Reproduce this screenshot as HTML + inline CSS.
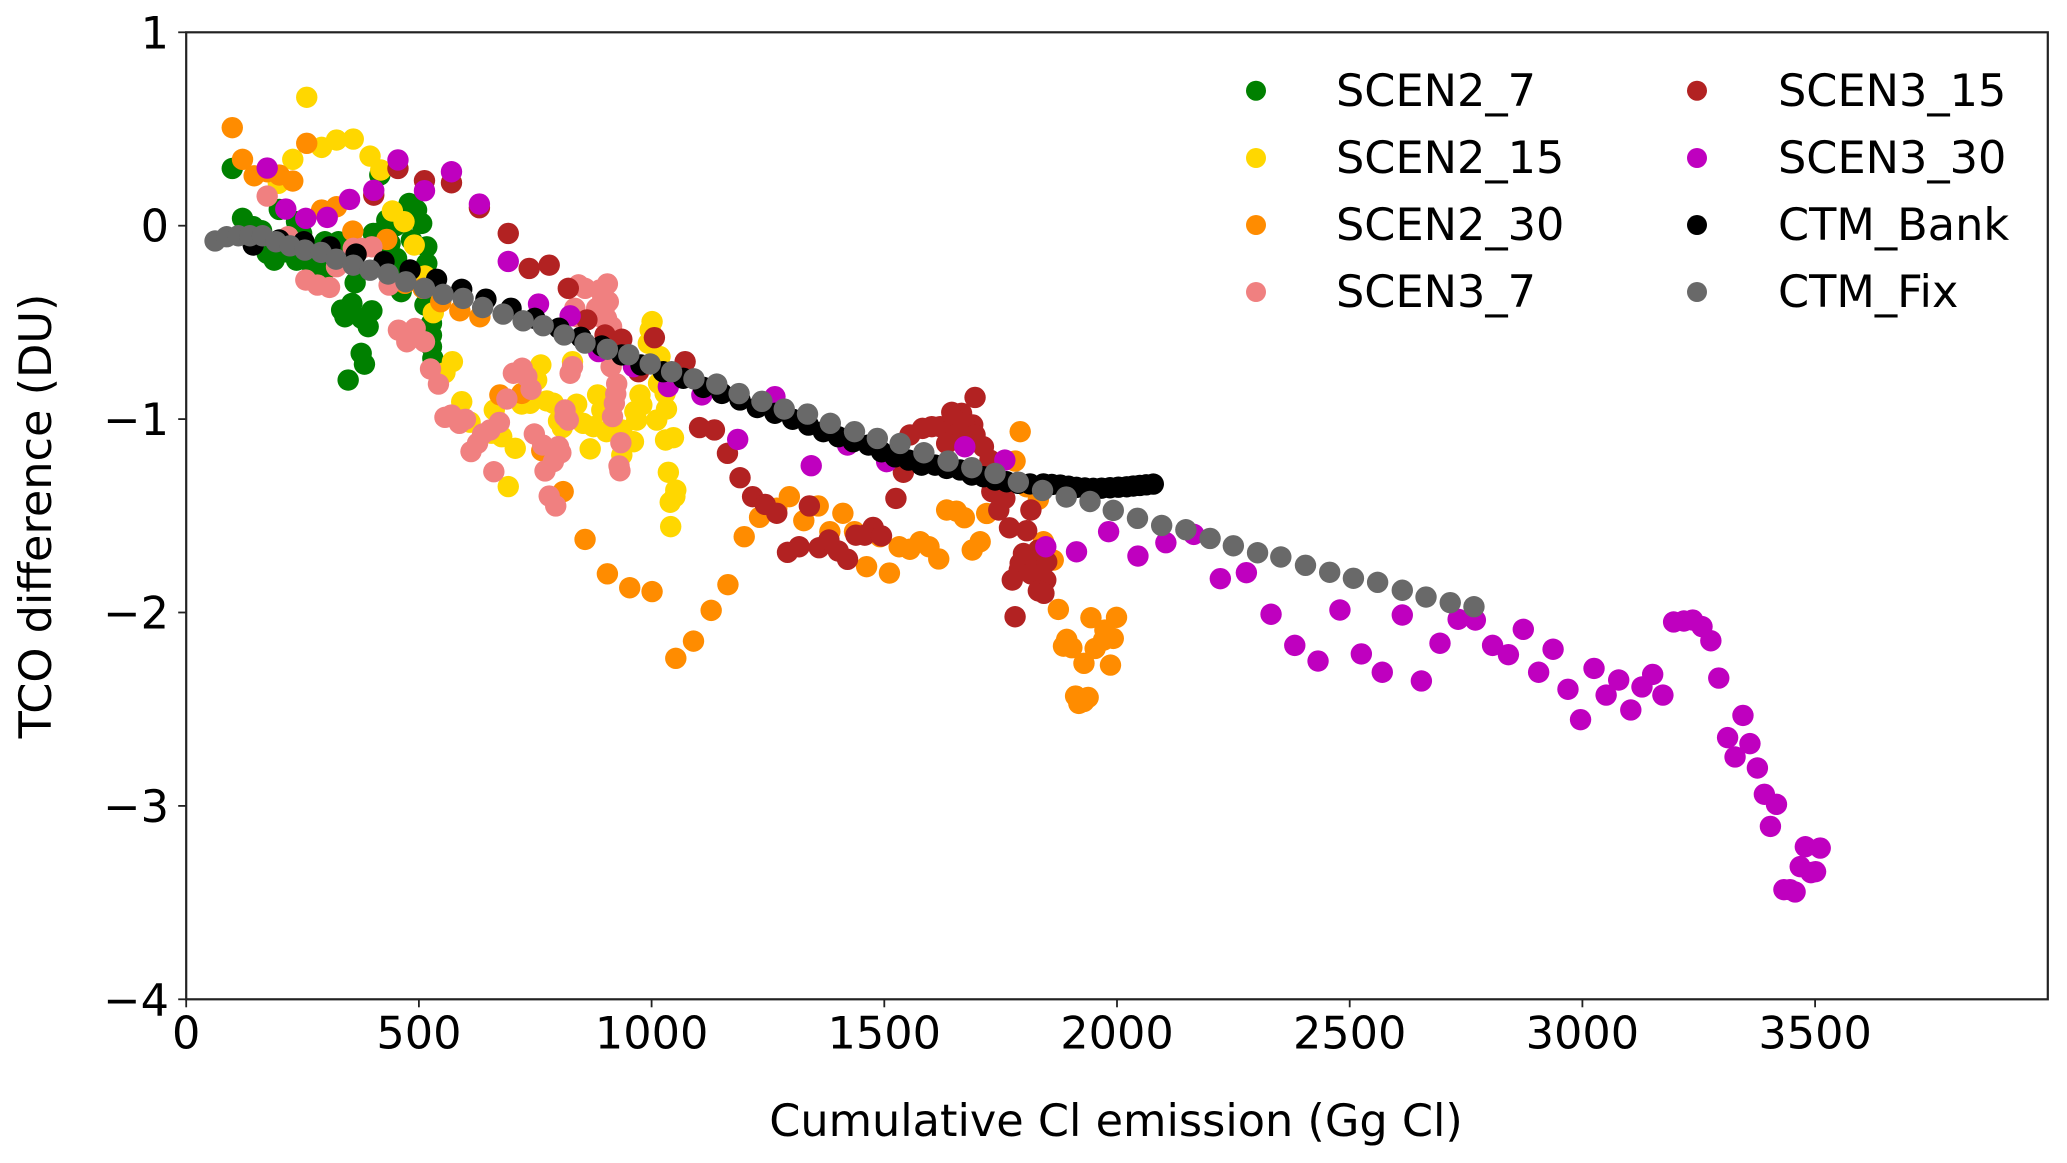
<!DOCTYPE html>
<html lang="en">
<head>
<meta charset="utf-8">
<title>TCO difference vs cumulative Cl emission</title>
<style>
html,body{margin:0;padding:0;background:#fff;}
svg{display:block;}
text{font-family:"DejaVu Sans","Liberation Sans",sans-serif;font-size:44.6px;fill:#000;}
</style>
</head>
<body>
<svg id="chart" xmlns="http://www.w3.org/2000/svg" width="2067" height="1163" viewBox="0 0 2067 1163">
  <rect x="0" y="0" width="2067" height="1163" fill="#fff"/>
  <g id="marks"></g>
  <rect id="frame" fill="none" stroke="#222" stroke-width="2.2"/>
  <g id="axes"></g>
  <text x="1116" y="1136" text-anchor="middle">Cumulative Cl emission (Gg Cl)</text>
  <text text-anchor="middle" transform="translate(51,516) rotate(-90)">TCO difference (DU)</text>
  <g>
    <g><circle cx="1256" cy="90.7" r="10" fill="#008000"/><text x="1336" y="106">SCEN2_7</text></g>
    <g><circle cx="1256" cy="158" r="10" fill="#ffd700"/><text x="1336" y="173">SCEN2_15</text></g>
    <g><circle cx="1256" cy="225" r="10" fill="#ff8c00"/><text x="1336" y="240">SCEN2_30</text></g>
    <g><circle cx="1256" cy="292" r="10" fill="#f08080"/><text x="1336" y="307">SCEN3_7</text></g>
    <g><circle cx="1697" cy="90.7" r="10" fill="#b22222"/><text x="1778" y="106">SCEN3_15</text></g>
    <g><circle cx="1697" cy="158" r="10" fill="#bf00bf"/><text x="1778" y="173">SCEN3_30</text></g>
    <g><circle cx="1697" cy="225" r="10" fill="#000"/><text x="1778" y="240">CTM_Bank</text></g>
    <g><circle cx="1697" cy="292" r="10" fill="#696969"/><text x="1778" y="307">CTM_Fix</text></g>
  </g>
</svg>
<script>
const xTicks = [0,500,1000,1500,2000,2500,3000,3500];
const yTicks = [1,0,-1,-2,-3,-4];
const xLimits = [0,4000];
const yLimits = [-4,1];

const scen2_7 = [[99,.296],[121,.038],[144,-.005],[162,-.026],[200,.084],[237,.021],[248,-.04],[174,-.143],[189,-.178],[212,-.135],[237,-.178],[259,-.178],[284,-.212],[298,-.23],[316,-.204],[298,-.083],[327,-.083],[363,-.295],[334,-.436],[356,-.402],[341,-.471],[399,-.44],[377,-.479],[391,-.522],[376,-.66],[383,-.716],[348,-.798],[416,.262],[402,-.04],[409,-.04],[431,.029],[450,.0],[420,-.1],[479,.115],[495,.081],[506,.012],[484,-.074],[452,-.169],[438,-.092],[462,-.341],[517,-.109],[517,-.195],[513,-.264],[513,-.41],[527,-.505],[527,-.566],[527,-.626],[530,-.686],[467,-.247]];

const scen2_15 = [[259,.664],[229,.343],[291,.405],[323,.443],[359,.448],[395,.36],[418,.288],[198,.219],[443,.076],[468,.021],[490,-.1],[513,-.26],[531,-.45],[572,-.703],[556,-.76],[592,-.91],[762,-.72],[753,-.798],[830,-.703],[1001,-.496],[997,-.539],[993,-.608],[1018,-.677],[1015,-.815],[975,-.875],[979,-.927],[964,-.961],[968,-1.005],[1011,-1.005],[1032,-.948],[1029,-.867],[884,-.875],[893,-.953],[839,-.923],[775,-.906],[789,-.918],[721,-.922],[739,-.918],[662,-.953],[678,-1.091],[707,-1.151],[692,-1.349],[868,-1.154],[800,-1.01],[808,-1.044],[853,-1.022],[875,-1.039],[903,-1.065],[936,-1.056],[961,-1.117],[936,-1.186],[1030,-1.108],[1047,-1.096],[1036,-1.275],[1052,-1.367],[1050,-1.401],[1040,-1.43],[1041,-1.556],[610,-1.016],[656,-1.073]];

const scen2_30 = [[99,.507],[121,.343],[146,.258],[174,.279],[200,.262],[229,.231],[259,.426],[291,.081],[323,.098],[358,-.028],[431,-.071],[470,-.298],[509,-.324],[547,-.393],[588,-.44],[631,-.471],[674,-.875],[721,-.867],[764,-1.163],[810,-1.375],[857,-1.622],[905,-1.8],[953,-1.872],[1001,-1.892],[1052,-2.237],[1090,-2.148],[1128,-1.989],[1164,-1.856],[1199,-1.608],[1232,-1.508],[1269,-1.461],[1296,-1.401],[1327,-1.525],[1358,-1.449],[1411,-1.487],[1383,-1.582],[1436,-1.582],[1491,-1.608],[1462,-1.763],[1511,-1.796],[1532,-1.66],[1555,-1.673],[1577,-1.634],[1596,-1.66],[1617,-1.723],[1634,-1.47],[1655,-1.476],[1672,-1.51],[1720,-1.488],[1706,-1.634],[1689,-1.677],[1792,-1.065],[1781,-1.217],[1806,-1.35],[1831,-1.415],[1842,-1.634],[1863,-1.729],[1874,-1.984],[1944,-2.027],[1999,-2.025],[1974,-2.091],[1992,-2.134],[1892,-2.139],[1885,-2.174],[1903,-2.182],[1953,-2.186],[1971,-2.143],[1929,-2.263],[1986,-2.272],[1911,-2.432],[1938,-2.439],[1918,-2.47],[1929,-2.46]];

const scen3_7 = [[174,.153],[219,-.057],[257,-.281],[282,-.307],[308,-.319],[323,-.212],[359,-.117],[377,-.117],[399,-.109],[436,-.307],[456,-.54],[474,-.6],[492,-.531],[512,-.6],[525,-.741],[542,-.819],[556,-.991],[570,-.979],[587,-1.022],[600,-1.001],[703,-.763],[722,-.737],[732,-.78],[741,-.846],[689,-.896],[673,-1.017],[653,-1.056],[637,-1.077],[626,-1.125],[612,-1.168],[661,-1.272],[748,-1.077],[766,-1.134],[800,-1.142],[805,-1.174],[789,-1.22],[771,-1.268],[780,-1.398],[794,-1.449],[825,-.763],[830,-.729],[814,-.953],[814,-.987],[821,-1.005],[934,-1.122],[930,-1.242],[932,-1.267],[916,-.987],[920,-.918],[925,-.818],[923,-.87],[913,-.729],[843,-.306],[857,-.324],[905,-.301],[889,-.332],[907,-.393],[882,-.427],[835,-.427],[903,-.479],[914,-.522],[839,-.47],[889,-.47],[895,-.38],[898,-.43],[905,-.56],[925,-.6]];

const scen3_15 = [[455,.296],[512,.233],[570,.222],[403,.158],[630,.093],[692,-.04],[737,-.221],[780,-.204],[821,-.324],[861,-.487],[900,-.565],[936,-.587],[1006,-.579],[972,-.755],[1072,-.703],[1103,-1.044],[1135,-1.056],[1163,-1.177],[1190,-1.303],[1217,-1.401],[1244,-1.441],[1269,-1.487],[1292,-1.689],[1317,-1.66],[1360,-1.665],[1381,-1.625],[1401,-1.682],[1421,-1.725],[1439,-1.6],[1458,-1.6],[1476,-1.56],[1494,-1.604],[1339,-1.449],[1525,-1.41],[1541,-1.275],[1555,-1.082],[1582,-1.048],[1602,-1.039],[1620,-1.039],[1645,-.965],[1666,-.97],[1650,-1.0],[1640,-1.06],[1655,-1.08],[1690,-1.03],[1673,-1.031],[1695,-.888],[1684,-1.082],[1713,-1.143],[1634,-1.126],[1727,-1.212],[1731,-1.375],[1759,-1.41],[1746,-1.47],[1815,-1.47],[1769,-1.562],[1806,-1.577],[1799,-1.695],[1792,-1.746],[1820,-1.763],[1806,-1.712],[1815,-1.72],[1790,-1.78],[1825,-1.75],[1815,-1.8],[1849,-1.738],[1831,-1.677],[1775,-1.832],[1847,-1.832],[1831,-1.888],[1843,-1.901],[1781,-2.022],[1670,-1.022],[1695,-1.082]];

const scen3_30 = [[174,.298],[214,.086],[257,.038],[303,.043],[351,.136],[403,.183],[455,.34],[512,.181],[570,.279],[630,.112],[692,-.185],[757,-.405],[825,-.466],[886,-.651],[961,-.729],[1036,-.832],[1108,-.875],[1265,-.884],[1185,-1.105],[1343,-1.241],[1421,-1.134],[1505,-1.22],[1673,-1.143],[1759,-1.212],[1847,-1.66],[1913,-1.686],[1982,-1.582],[2045,-1.708],[2105,-1.639],[2165,-1.596],[2222,-1.825],[2278,-1.794],[2331,-2.009],[2382,-2.17],[2432,-2.251],[2479,-1.987],[2525,-2.214],[2570,-2.309],[2613,-2.013],[2654,-2.354],[2694,-2.159],[2733,-2.035],[2770,-2.039],[2807,-2.17],[2841,-2.218],[2873,-2.087],[2906,-2.309],[2937,-2.19],[2969,-2.397],[2996,-2.554],[3025,-2.289],[3051,-2.427],[3078,-2.349],[3104,-2.504],[3128,-2.385],[3151,-2.32],[3173,-2.427],[3196,-2.049],[3218,-2.044],[3237,-2.039],[3257,-2.073],[3276,-2.146],[3293,-2.339],[3312,-2.647],[3328,-2.747],[3345,-2.532],[3360,-2.678],[3376,-2.804],[3391,-2.94],[3404,-3.106],[3417,-2.992],[3433,-3.433],[3446,-3.433],[3457,-3.445],[3468,-3.314],[3479,-3.211],[3491,-3.345],[3501,-3.34],[3511,-3.218]];

const ctm_bank = [[144,-.1],[200,-.074],[253,-.083],[309,-.109],[365,-.147],[425,-.186],[481,-.229],[538,-.277],[592,-.329],[644,-.38],[698,-.427],[749,-.479],[801,-.53],[848,-.577],[893,-.622],[936,-.668],[977,-.72],[1025,-.755],[1068,-.789],[1111,-.836],[1151,-.867],[1190,-.901],[1227,-.94],[1265,-.97],[1303,-1.001],[1337,-1.031],[1369,-1.065],[1401,-1.091],[1433,-1.117],[1466,-1.134],[1494,-1.169],[1523,-1.195],[1552,-1.212],[1580,-1.238],[1609,-1.238],[1634,-1.255],[1663,-1.263],[1688,-1.289],[1713,-1.298],[1738,-1.315],[1763,-1.324],[1788,-1.332],[1813,-1.335],[1842,-1.335],[1860,-1.338],[1878,-1.341],[1896,-1.347],[1913,-1.353],[1931,-1.356],[1949,-1.358],[1967,-1.357],[1985,-1.355],[2003,-1.352],[2021,-1.35],[2035,-1.346],[2049,-1.343],[2063,-1.34],[2078,-1.336]];

const ctm_fix = [[62,-.079],[87,-.057],[112,-.052],[137,-.052],[164,-.052],[193,-.083],[223,-.104],[255,-.126],[290,-.138],[322,-.173],[359,-.204],[395,-.23],[434,-.25],[472,-.29],[512,-.324],[552,-.355],[595,-.376],[637,-.423],[681,-.457],[724,-.492],[767,-.517],[812,-.565],[857,-.607],[905,-.639],[951,-.667],[997,-.715],[1043,-.755],[1091,-.792],[1140,-.819],[1188,-.868],[1237,-.908],[1285,-.948],[1335,-.974],[1384,-1.022],[1436,-1.065],[1485,-1.1],[1534,-1.126],[1585,-1.174],[1637,-1.217],[1688,-1.251],[1738,-1.281],[1788,-1.326],[1840,-1.369],[1891,-1.403],[1942,-1.426],[1992,-1.472],[2044,-1.513],[2096,-1.55],[2148,-1.572],[2200,-1.617],[2250,-1.655],[2302,-1.691],[2352,-1.713],[2405,-1.756],[2457,-1.792],[2508,-1.823],[2560,-1.844],[2613,-1.885],[2664,-1.92],[2716,-1.949],[2767,-1.97]];

const NS = 'http://www.w3.org/2000/svg';
const plot = {left:186.2, right:2047.8, top:32.3, bottom:999.3};
function xAxis(v){ return plot.left + (v - xLimits[0]) / (xLimits[1] - xLimits[0]) * (plot.right - plot.left); }
function yAxis(v){ return plot.bottom - (v - yLimits[0]) / (yLimits[1] - yLimits[0]) * (plot.bottom - plot.top); }

const frame = document.getElementById('frame');
frame.setAttribute('x', xAxis(xLimits[0]));
frame.setAttribute('y', yAxis(yLimits[1]));
frame.setAttribute('width', xAxis(xLimits[1]) - xAxis(xLimits[0]));
frame.setAttribute('height', yAxis(yLimits[0]) - yAxis(yLimits[1]));

const marks = document.getElementById('marks');
function drawSeries(points, color, name){
  const g = document.createElementNS(NS, 'g');
  
  
  g.setAttribute('fill', color);
  g.setAttribute('class', name);
  points.forEach(function(p){
    const el = document.createElementNS(NS, 'circle');
    el.setAttribute('cx', xAxis(p[0]).toFixed(2));
    el.setAttribute('cy', yAxis(p[1]).toFixed(2));
    el.setAttribute('r', 10.7);
    
    
    g.appendChild(el);
  });
  marks.appendChild(g);
}
drawSeries(scen2_7, '#008000', 'scen2-7');
drawSeries(scen2_15, '#ffd700', 'scen2-15');
drawSeries(scen2_30, '#ff8c00', 'scen2-30');
drawSeries(scen3_7, '#f08080', 'scen3-7');
drawSeries(scen3_15, '#b22222', 'scen3-15');
drawSeries(scen3_30, '#bf00bf', 'scen3-30');
drawSeries(ctm_bank, '#000000', 'ctm-bank');
drawSeries(ctm_fix, '#696969', 'ctm-fix');

const axes = document.getElementById('axes');
xTicks.forEach(function(v){
  const x = xAxis(v);
  const tick = document.createElementNS(NS, 'line');
  tick.setAttribute('x1', x);
  tick.setAttribute('x2', x);
  tick.setAttribute('y1', plot.bottom);
  tick.setAttribute('y2', plot.bottom + 8);
  tick.setAttribute('stroke', '#222');
  tick.setAttribute('stroke-width', 1.8);
  
  
  axes.appendChild(tick);
  const label = document.createElementNS(NS, 'text');
  label.setAttribute('x', x);
  label.setAttribute('y', 1048.5);
  label.setAttribute('text-anchor', 'middle');
  
  
  label.textContent = String(v);
  axes.appendChild(label);
});
yTicks.forEach(function(v){
  const y = yAxis(v);
  const tick = document.createElementNS(NS, 'line');
  tick.setAttribute('x1', plot.left - 8);
  tick.setAttribute('x2', plot.left);
  tick.setAttribute('y1', y);
  tick.setAttribute('y2', y);
  tick.setAttribute('stroke', '#222');
  tick.setAttribute('stroke-width', 1.8);
  
  
  axes.appendChild(tick);
  const label = document.createElementNS(NS, 'text');
  label.setAttribute('x', 169);
  label.setAttribute('y', y + 16);
  label.setAttribute('text-anchor', 'end');
  
  
  label.textContent = v < 0 ? '\u2212' + Math.abs(v) : String(v);
  axes.appendChild(label);
});
</script>
</body>
</html>
